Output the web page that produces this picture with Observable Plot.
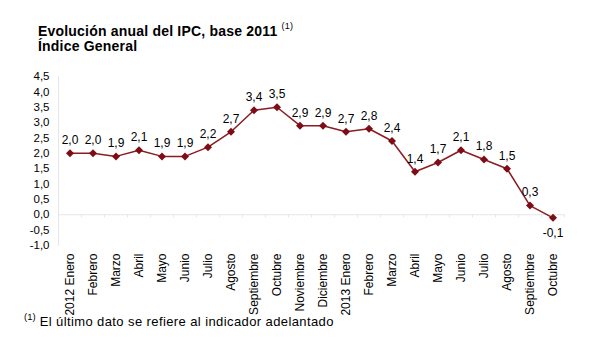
<!DOCTYPE html>
<html><head><meta charset="utf-8">
<script src="https://cdn.jsdelivr.net/npm/d3@7"></script>
<script src="https://cdn.jsdelivr.net/npm/@observablehq/plot@0.6"></script>
<style>
body{margin:0;background:#fff;font-family:"Liberation Sans",Arial,sans-serif;}
#wrap{position:relative;width:608px;height:348px;overflow:hidden;}
.t{position:absolute;color:#000;white-space:nowrap;line-height:14px;}
sup{font-size:9px;font-weight:normal;vertical-align:7px;line-height:0;}
</style></head>
<body><div id="wrap">
<div class="t" style="left:38px;top:24px;font-weight:bold;font-size:14px;letter-spacing:0.2px;">Evolución anual del IPC, base 2011 <sup>(1)</sup></div>
<div class="t" style="left:38px;top:39px;font-weight:bold;font-size:14px;letter-spacing:0.2px;">Índice General</div>
<div class="t" style="left:24px;top:315px;font-size:13px;letter-spacing:0.4px;"><sup style="font-size:9.5px;vertical-align:6px;letter-spacing:0">(1)</sup> El último dato se refiere al indicador adelantado</div>
</div>
<script>
const months = ["2012 Enero","Febrero","Marzo","Abril","Mayo","Junio","Julio","Agosto","Septiembre","Octubre","Noviembre","Diciembre","2013 Enero","Febrero ","Marzo ","Abril ","Mayo ","Junio ","Julio ","Agosto ","Septiembre ","Octubre "];
const values = [2.0,2.0,1.9,2.1,1.9,1.9,2.2,2.7,3.4,3.5,2.9,2.9,2.7,2.8,2.4,1.4,1.7,2.1,1.8,1.5,0.3,-0.1];
const yTicks = [-1,-0.5,0,0.5,1,1.5,2,2.5,3,3.5,4,4.5];
const data = months.map((m,i)=>({m, v: values[i], last: i===months.length-1}));
const fmt = d => d.toFixed(1).replace(".", ",");
const red = "#7d0c16";

const chart = Plot.plot({
  width: 608, height: 348,
  marginTop: 76, marginBottom: 103, marginLeft: 58, marginRight: 44,
  style: {fontFamily: '"Liberation Sans", Arial, sans-serif', fontSize: "11px", background: "transparent", overflow: "visible"},
  x: {type: "band", domain: months, padding: 0, align: 0.5, label: null},
  y: {domain: [-1, 4.5], ticks: yTicks, label: null},
  marks: [
    Plot.ruleY([0], {stroke: "#e6e6e6", strokeWidth: 1.2}),
    Plot.ruleX(months, {x: d => d, dx: -11.5, y1: 0, y2: -0.1, stroke: "#e6e6e6"}),
    Plot.ruleX([months[months.length-1]], {x: d => d, dx: 11.5, y1: 0, y2: -0.1, stroke: "#e6e6e6"}),
    Plot.axisY({ticks: yTicks, tickFormat: fmt, tickSize: 0, tickPadding: 9, fill: "#000", fontSize: 11.5, label: null}),
    Plot.frame({anchor: "left", stroke: "#e6e6e6"}),
    Plot.axisX({tickSize: 0, tickRotate: -90, tickPadding: 8, fill: "#000", fontSize: 12, label: null, tickFormat: d => d.trim()}),
    Plot.line(data, {x: "m", y: "v", stroke: "#8a1c22", strokeWidth: 1.5}),
    Plot.dot(data, {x: "m", y: "v", symbol: "diamond2", r: 3.6, fill: red, stroke: null}),
    Plot.text(data.filter(d=>!d.last), {x: "m", y: "v", text: d => fmt(d.v), dy: -13, fill: "#000", fontSize: 12}),
    Plot.text(data.filter(d=>d.last), {x: "m", y: "v", text: d => fmt(d.v), dy: 15, fill: "#000", fontSize: 12})
  ]
});
chart.style.position = "absolute";
chart.style.left = "0px";
chart.style.top = "0px";
document.getElementById("wrap").appendChild(chart);
</script>
</body></html>
